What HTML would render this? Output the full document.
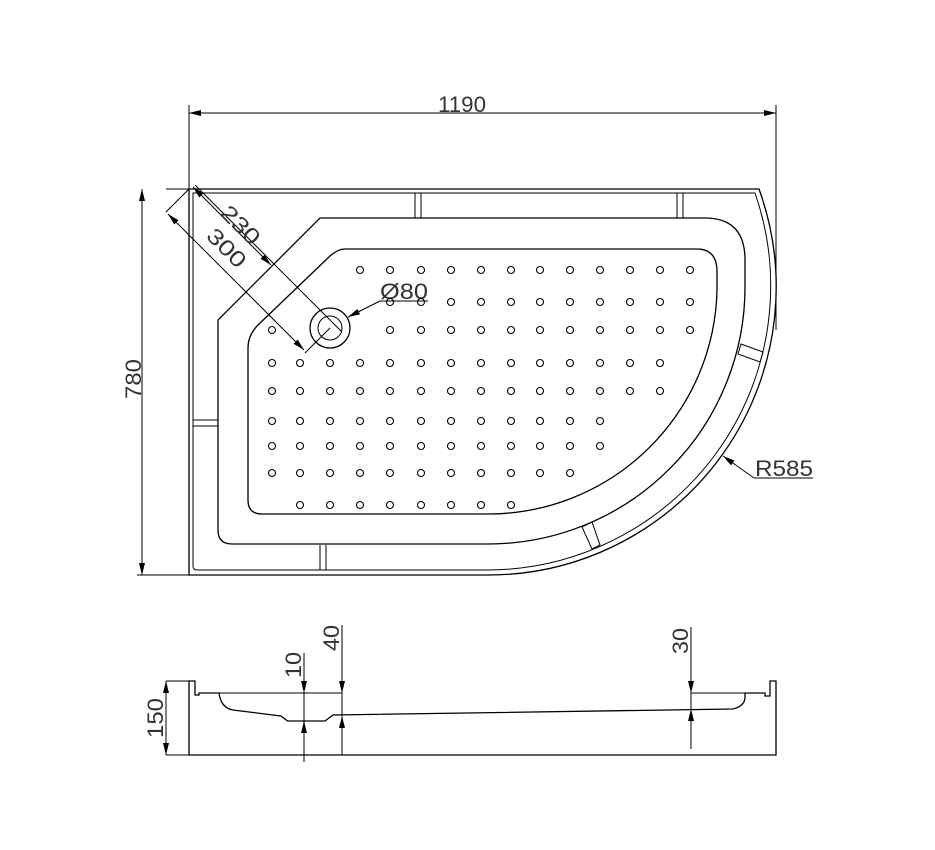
<!DOCTYPE html>
<html><head><meta charset="utf-8"><style>
html,body{margin:0;padding:0;background:#fff;}
svg{display:block;}
text{font-family:"Liberation Sans",sans-serif;fill:#333;font-size:22px;}
</style></head><body>
<svg width="935" height="850" viewBox="0 0 935 850" xmlns="http://www.w3.org/2000/svg">
<defs>
<marker id="a" viewBox="0 0 12 6" refX="12" refY="3" markerWidth="12" markerHeight="6" markerUnits="userSpaceOnUse" orient="auto"><path d="M0,0 L12,3 L0,6 z" fill="#000"/></marker>
</defs>
<g fill="none" stroke="#000" stroke-width="1.3">
<!-- outer outline -->
<path d="M189,189 L759,189 A288,288 0 0 1 488,575 L189,575 Z"/>
<path d="M193,193 L755,193 A284,284 0 0 1 488,570 L197,570 Q193,570 193,566 Z" stroke-width="1"/>
<!-- rim -->
<path d="M320,218 L705,218 Q745,218 745,260 L745,287 A257,257 0 0 1 488,544 L232,544 Q218,544 218,530 L218,320 Z"/>
<!-- floor -->
<path d="M345,249 L697,249 Q717,249 717,272 L717,290 A229,229 0 0 1 488,514 L262,514 Q248,514 248,500 L248,348 Q248,335 258,325 L330,256 Q338,249 345,249 Z"/>
<!-- supports -->
<path d="M415,193 V218 M421,193 V218 M677,193 V218 M683,193 V218 M193,420 H218 M193,426 H218 M320,545 V570 M326,545 V570" stroke-width="1"/>
<path d="M741,344 L763,352 L760,362 L738,354 Z" stroke-width="1"/>
<path d="M582,527 L592,522 L600,545 L592,549 Z" stroke-width="1"/>
<!-- drain -->
<circle cx="330" cy="328" r="20"/>
<circle cx="330" cy="328" r="12" stroke-width="1"/>
</g>
<!-- dots -->
<g fill="none" stroke="#000" stroke-width="1.1" id="dots">
</g>
<g fill="none" stroke="#000" stroke-width="1">
<!-- 1190 dim -->
<path d="M189,105 V189 M776,105 V330 M166,189 H189 M137,575 H189"/>
<line x1="776" y1="113" x2="189" y2="113" marker-end="url(#a)"/>
<line x1="189" y1="113" x2="776" y2="113" marker-end="url(#a)"/>
<line x1="142" y1="575" x2="142" y2="189" marker-end="url(#a)"/>
<line x1="142" y1="189" x2="142" y2="575" marker-end="url(#a)"/>
<!-- diagonal dims -->
<path d="M195,185 L342,332 M189,189 L166,212 M330,328 L305,353"/>
<line x1="230" y1="224" x2="193" y2="187" marker-end="url(#a)"/>
<line x1="232" y1="226" x2="271" y2="265" marker-end="url(#a)"/>
<line x1="240" y1="286" x2="168" y2="214" marker-end="url(#a)"/>
<line x1="240" y1="286" x2="304" y2="350" marker-end="url(#a)"/>
<!-- O80 leader -->
<path d="M380,301 H428"/>
<line x1="380" y1="301" x2="348" y2="317" marker-end="url(#a)"/>
<!-- R585 leader -->
<path d="M754,478 H813"/>
<line x1="754" y1="478" x2="723" y2="456" marker-end="url(#a)"/>
</g>
<text x="438" y="112" textLength="48" lengthAdjust="spacingAndGlyphs">1190</text>
<text transform="translate(141,399) rotate(-90)" textLength="40" lengthAdjust="spacingAndGlyphs">780</text>
<text transform="translate(219,214) rotate(45)" textLength="46" lengthAdjust="spacingAndGlyphs">230</text>
<text transform="translate(205,237) rotate(45)" textLength="46" lengthAdjust="spacingAndGlyphs">300</text>
<text x="380" y="299" textLength="48" lengthAdjust="spacingAndGlyphs">Ø80</text>
<text x="755" y="476" textLength="58" lengthAdjust="spacingAndGlyphs">R585</text>

<!-- section view -->
<g fill="none" stroke="#000" stroke-width="1.3">
<path d="M189,755 V681 H195 V695 H199 V693 H219 Q221,708 233,710 L281,716 L287.5,721 L325,721 L333,715 L733,709 Q745,706 745,697 V693 H765 V696 H770 V681 H776 V755 Z"/>
<path d="M219,693 H342 M691,693 H745" stroke-width="1"/>
</g>
<g fill="none" stroke="#000" stroke-width="1">
<path d="M166,755 H189 M166,681 H189"/>
<line x1="166" y1="718" x2="166" y2="681" marker-end="url(#a)"/>
<line x1="166" y1="718" x2="166" y2="755" marker-end="url(#a)"/>
<path d="M304,653 V762 M342,625 V755 M691,627 V749"/>
<line x1="304" y1="670" x2="304" y2="693" marker-end="url(#a)"/>
<line x1="304" y1="745" x2="304" y2="721" marker-end="url(#a)"/>
<line x1="342" y1="670" x2="342" y2="693" marker-end="url(#a)"/>
<line x1="342" y1="740" x2="342" y2="716" marker-end="url(#a)"/>
<line x1="691" y1="670" x2="691" y2="693" marker-end="url(#a)"/>
<line x1="691" y1="735" x2="691" y2="709" marker-end="url(#a)"/>
</g>
<text transform="translate(163,738) rotate(-90)" textLength="40" lengthAdjust="spacingAndGlyphs">150</text>
<text transform="translate(301,678) rotate(-90)" textLength="26" lengthAdjust="spacingAndGlyphs">10</text>
<text transform="translate(339,651) rotate(-90)" textLength="26" lengthAdjust="spacingAndGlyphs">40</text>
<text transform="translate(688,654) rotate(-90)" textLength="26" lengthAdjust="spacingAndGlyphs">30</text>

<g fill="none" stroke="#000" stroke-width="1.1">
<!-- row 270 -->
<circle cx="360" cy="270" r="3.5"/><circle cx="390" cy="270" r="3.5"/><circle cx="421" cy="270" r="3.5"/><circle cx="451" cy="270" r="3.5"/><circle cx="481" cy="270" r="3.5"/><circle cx="511" cy="270" r="3.5"/><circle cx="540" cy="270" r="3.5"/><circle cx="570" cy="270" r="3.5"/><circle cx="600" cy="270" r="3.5"/><circle cx="630" cy="270" r="3.5"/><circle cx="660" cy="270" r="3.5"/><circle cx="690" cy="270" r="3.5"/>
<!-- row 302 -->
<circle cx="390" cy="302" r="3.5"/><circle cx="421" cy="302" r="3.5"/><circle cx="451" cy="302" r="3.5"/><circle cx="481" cy="302" r="3.5"/><circle cx="511" cy="302" r="3.5"/><circle cx="540" cy="302" r="3.5"/><circle cx="570" cy="302" r="3.5"/><circle cx="600" cy="302" r="3.5"/><circle cx="630" cy="302" r="3.5"/><circle cx="660" cy="302" r="3.5"/><circle cx="690" cy="302" r="3.5"/>
<!-- row 330 -->
<circle cx="272" cy="330" r="3.5"/><circle cx="390" cy="330" r="3.5"/><circle cx="421" cy="330" r="3.5"/><circle cx="451" cy="330" r="3.5"/><circle cx="481" cy="330" r="3.5"/><circle cx="511" cy="330" r="3.5"/><circle cx="540" cy="330" r="3.5"/><circle cx="570" cy="330" r="3.5"/><circle cx="600" cy="330" r="3.5"/><circle cx="630" cy="330" r="3.5"/><circle cx="660" cy="330" r="3.5"/><circle cx="690" cy="330" r="3.5"/>
<!-- row 363 -->
<circle cx="272" cy="363" r="3.5"/><circle cx="300" cy="363" r="3.5"/><circle cx="330" cy="363" r="3.5"/><circle cx="360" cy="363" r="3.5"/><circle cx="390" cy="363" r="3.5"/><circle cx="421" cy="363" r="3.5"/><circle cx="451" cy="363" r="3.5"/><circle cx="481" cy="363" r="3.5"/><circle cx="511" cy="363" r="3.5"/><circle cx="540" cy="363" r="3.5"/><circle cx="570" cy="363" r="3.5"/><circle cx="600" cy="363" r="3.5"/><circle cx="630" cy="363" r="3.5"/><circle cx="660" cy="363" r="3.5"/>
<!-- row 391 -->
<circle cx="272" cy="391" r="3.5"/><circle cx="300" cy="391" r="3.5"/><circle cx="330" cy="391" r="3.5"/><circle cx="360" cy="391" r="3.5"/><circle cx="390" cy="391" r="3.5"/><circle cx="421" cy="391" r="3.5"/><circle cx="451" cy="391" r="3.5"/><circle cx="481" cy="391" r="3.5"/><circle cx="511" cy="391" r="3.5"/><circle cx="540" cy="391" r="3.5"/><circle cx="570" cy="391" r="3.5"/><circle cx="600" cy="391" r="3.5"/><circle cx="630" cy="391" r="3.5"/><circle cx="660" cy="391" r="3.5"/>
<!-- row 421 -->
<circle cx="272" cy="421" r="3.5"/><circle cx="300" cy="421" r="3.5"/><circle cx="330" cy="421" r="3.5"/><circle cx="360" cy="421" r="3.5"/><circle cx="390" cy="421" r="3.5"/><circle cx="421" cy="421" r="3.5"/><circle cx="451" cy="421" r="3.5"/><circle cx="481" cy="421" r="3.5"/><circle cx="511" cy="421" r="3.5"/><circle cx="540" cy="421" r="3.5"/><circle cx="570" cy="421" r="3.5"/><circle cx="600" cy="421" r="3.5"/>
<!-- row 446 -->
<circle cx="272" cy="446" r="3.5"/><circle cx="300" cy="446" r="3.5"/><circle cx="330" cy="446" r="3.5"/><circle cx="360" cy="446" r="3.5"/><circle cx="390" cy="446" r="3.5"/><circle cx="421" cy="446" r="3.5"/><circle cx="451" cy="446" r="3.5"/><circle cx="481" cy="446" r="3.5"/><circle cx="511" cy="446" r="3.5"/><circle cx="540" cy="446" r="3.5"/><circle cx="570" cy="446" r="3.5"/><circle cx="600" cy="446" r="3.5"/>
<!-- row 473 -->
<circle cx="272" cy="473" r="3.5"/><circle cx="300" cy="473" r="3.5"/><circle cx="330" cy="473" r="3.5"/><circle cx="360" cy="473" r="3.5"/><circle cx="390" cy="473" r="3.5"/><circle cx="421" cy="473" r="3.5"/><circle cx="451" cy="473" r="3.5"/><circle cx="481" cy="473" r="3.5"/><circle cx="511" cy="473" r="3.5"/><circle cx="540" cy="473" r="3.5"/><circle cx="570" cy="473" r="3.5"/>
<!-- row 505 -->
<circle cx="300" cy="505" r="3.5"/><circle cx="330" cy="505" r="3.5"/><circle cx="360" cy="505" r="3.5"/><circle cx="390" cy="505" r="3.5"/><circle cx="421" cy="505" r="3.5"/><circle cx="451" cy="505" r="3.5"/><circle cx="481" cy="505" r="3.5"/><circle cx="511" cy="505" r="3.5"/>
</g>
</svg>
</body></html>
